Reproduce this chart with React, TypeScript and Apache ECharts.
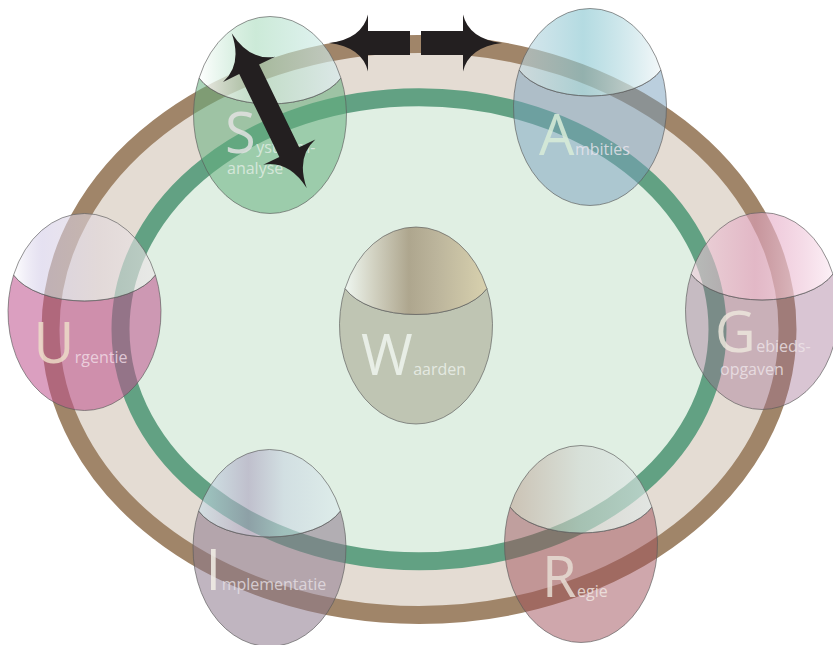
import React, { useEffect, useRef } from "react";
import * as echarts from "echarts";

// ---- data ----
const bigLetters = ["S", "A", "U", "W", "G", "I", "R"];
const firstLines = ["ysteem-", "mbities", "rgentie", "aarden", "ebieds-", "mplementatie", "egie"];
const secondLines = ["analyse", "", "", "", "opgaven", "", ""];
const nodeX = [270, 590, 84.5, 416, 762, 269.5, 581];
const nodeY = [115, 107, 312, 325.5, 311, 548, 544];

// ---- layout / style (not data) ----
const LETTER_SIZE = 56;
const SMALL_SIZE = 16;
const textLayout = [
  { lx: -45, ly: 38, sy: 38, s2x: -43, s2y: 59 },
  { lx: -51, ly: 48, sy: 48, s2x: 0, s2y: 0 },
  { lx: -51, ly: 51, sy: 51, s2x: 0, s2y: 0 },
  { lx: -55, ly: 49.5, sy: 49.5, s2x: 0, s2y: 0 },
  { lx: -47, ly: 41, sy: 41, s2x: -42, s2y: 64 },
  { lx: -64, ly: 42, sy: 42, s2x: 0, s2y: 0 },
  { lx: -39, ly: 53, sy: 53, s2x: 0, s2y: 0 },
];
const bodyColors = [
  "rgba(100,175,125,0.55)",
  "rgba(120,160,190,0.5)",
  "rgba(190,80,140,0.55)",
  "rgba(190,195,178,0.97)",
  "rgba(160,110,145,0.4)",
  "rgba(140,120,140,0.55)",
  "rgba(160,80,90,0.5)",
];
const capStops = [
  [[0, "rgba(255,255,255,0.85)"], [0.4, "rgba(170,220,190,0.6)"], [1, "rgba(215,238,242,0.65)"]],
  [[0, "rgba(190,215,225,0.6)"], [0.45, "rgba(140,200,210,0.65)"], [1, "rgba(240,246,248,0.8)"]],
  [[0, "rgba(255,255,255,0.9)"], [0.2, "rgba(212,205,232,0.6)"], [0.6, "rgba(225,215,220,0.6)"], [1, "rgba(236,230,232,0.65)"]],
  [[0, "#eef6f0"], [0.2, "#d2d2c2"], [0.45, "#aea68e"], [0.65, "#bcb59c"], [1, "#d8d1ae"]],
  [[0, "rgba(240,205,220,0.6)"], [0.45, "rgba(225,160,190,0.6)"], [1, "rgba(252,238,245,0.85)"]],
  [[0, "rgba(200,225,235,0.6)"], [0.35, "rgba(170,160,190,0.6)"], [0.6, "rgba(200,212,225,0.6)"], [1, "rgba(220,235,238,0.6)"]],
  [[0, "rgba(190,165,150,0.6)"], [0.5, "rgba(210,215,210,0.6)"], [1, "rgba(225,235,235,0.65)"]],
];
const letterColors = ["#e2e2e2", "#d8ecd8", "#ecdcc8", "#eef4ee", "#ece6dc", "#f2eee6", "#e6ddd4"];
const smallColors = ["#e4eee6", "#ebe6ef", "#f2dfe8", "#eef3ee", "#efe6ea", "#e6e0e6", "#f2ebe6"];

const BODY_PATH =
  "M-70.9,-37 A75.7,40 0 0 0 70.9,-37 A76.5,98.5 0 1 1 -70.9,-37 Z";
const CAP_PATH =
  "M-70.9,-37 A76.5,98.5 0 0 1 70.9,-37 A75.7,40 0 0 1 -70.9,-37 Z";
const ARROW_PATH =
  "M0,-12 L42,-12 L42,-28.5 Q48,-4 81,0 Q48,4 42,28.5 L42,12 L0,12 Z";
const DOUBLE_ARROW_PATH =
  "M0,0 Q33,-4 40,-29 L40,-11 L132,-11 L132,-29 Q139,-4 172,0 Q139,4 132,29 L132,11 L40,11 L40,29 Q33,4 0,0 Z";

let registered = false;
function registerShapes() {
  if (registered) return;
  registered = true;
  echarts.graphic.registerShape("nodeBody", echarts.graphic.extendPath(BODY_PATH, {}));
  echarts.graphic.registerShape("nodeCap", echarts.graphic.extendPath(CAP_PATH, {}));
  echarts.graphic.registerShape("arrowOne", echarts.graphic.extendPath(ARROW_PATH, {}));
  echarts.graphic.registerShape("arrowTwo", echarts.graphic.extendPath(DOUBLE_ARROW_PATH, {}));
}

const CENTRAL = 0.388;
const font = (size: number) => `${size}px "Open Sans", "DejaVu Sans", sans-serif`;

export default function App() {
  const ref = useRef<HTMLDivElement>(null);
  useEffect(() => {
    if (!ref.current) return;
    registerShapes();
    const cv = document.createElement("canvas");
    const ctx = cv.getContext("2d");
    let letterWidths = bigLetters.map(() => 36);
    if (ctx) {
      ctx.font = font(LETTER_SIZE);
      letterWidths = bigLetters.map((l) => ctx.measureText(l).width);
    }
    const chart = echarts.init(ref.current, null, { renderer: "svg" });
    const data = bigLetters.map((_, i) => [nodeX[i], nodeY[i], i]);
    chart.setOption({
      animation: false,
      backgroundColor: "#ffffff",
      grid: { left: 0, right: 0, top: 0, bottom: 0 },
      xAxis: { type: "value", min: 0, max: 833, show: false },
      yAxis: { type: "value", min: 0, max: 645, inverse: true, show: false },
      graphic: [
        {
          type: "ellipse",
          z: 0,
          shape: { cx: 419, cy: 329.5, rx: 368.5, ry: 285.5 },
          style: { fill: "#e4dcd3", stroke: "#a08569", lineWidth: 18 },
        },
        {
          type: "ellipse",
          z: 0,
          shape: { cx: 419, cy: 329.3, rx: 298.5, ry: 232 },
          style: { fill: "#e0efe3", stroke: "#62a183", lineWidth: 18 },
        },
        {
          type: "arrowOne",
          z: 100,
          x: 421,
          y: 43,
          style: { fill: "#231f20" },
        },
        {
          type: "arrowOne",
          z: 100,
          x: 410,
          y: 43,
          rotation: Math.PI,
          style: { fill: "#231f20" },
        },
        {
          type: "arrowTwo",
          z: 100,
          x: 231.7,
          y: 33.3,
          rotation: -Math.atan2(155, 75),
          style: { fill: "#231f20" },
        },
      ],
      series: [
        {
          type: "custom",
          coordinateSystem: "cartesian2d",
          clip: false,
          silent: true,
          z: 2,
          data,
          renderItem: (params: any, api: any) => {
            const i = api.value(2) as number;
            const p = api.coord([api.value(0), api.value(1)]);
            const L = textLayout[i];
            const lx = p[0] + L.lx;
            const children: any[] = [
              {
                type: "nodeBody",
                x: p[0],
                y: p[1],
                style: { fill: bodyColors[i], stroke: "rgba(90,90,90,0.65)", lineWidth: 1 },
              },
              {
                type: "nodeCap",
                x: p[0],
                y: p[1],
                style: {
                  fill: new echarts.graphic.LinearGradient(
                    0, 0, 1, 0,
                    capStops[i].map((s: any) => ({ offset: s[0], color: s[1] }))
                  ),
                  stroke: "rgba(90,90,90,0.65)",
                  lineWidth: 1,
                },
              },
              {
                type: "text",
                x: lx,
                y: p[1] + L.ly - CENTRAL * LETTER_SIZE,
                style: {
                  text: bigLetters[i],
                  font: font(LETTER_SIZE),
                  fill: letterColors[i],
                  opacity: 0.85,
                  align: "left",
                  verticalAlign: "middle",
                },
              },
              {
                type: "text",
                x: lx + letterWidths[i] + 0.5,
                y: p[1] + L.sy - CENTRAL * SMALL_SIZE,
                style: {
                  text: firstLines[i],
                  font: font(SMALL_SIZE),
                  fill: smallColors[i],
                  opacity: 0.8,
                  align: "left",
                  verticalAlign: "middle",
                },
              },
            ];
            if (secondLines[i]) {
              children.push({
                type: "text",
                x: p[0] + L.s2x,
                y: p[1] + L.s2y - CENTRAL * SMALL_SIZE,
                style: {
                  text: secondLines[i],
                  font: font(SMALL_SIZE),
                  fill: smallColors[i],
                  opacity: 0.8,
                  align: "left",
                  verticalAlign: "middle",
                },
              });
            }
            return { type: "group", children };
          },
        },
      ],
    });
    return () => chart.dispose();
  }, []);
  return (
    <div
      ref={ref}
      style={{ position: "absolute", left: 0, top: 0, width: 833, height: 645 }}
    />
  );
}
